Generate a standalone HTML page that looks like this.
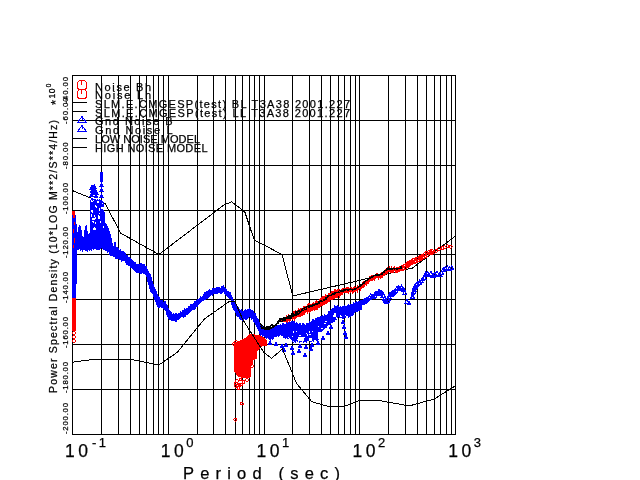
<!DOCTYPE html>
<html><head><meta charset="utf-8"><title>Power Spectral Density</title>
<style>html,body{margin:0;padding:0;background:#fff;overflow:hidden}svg{display:block}</style></head>
<body>
<svg width="640" height="480" viewBox="0 0 640 480">
<rect width="640" height="480" fill="#fff"/>
<path d="M72.5 75V435M101.5 75V435M118.5 75V435M130.5 75V435M139.5 75V435M146.5 75V435M153.5 75V435M158.5 75V435M163.5 75V435M168.5 75V435M197.5 75V435M213.5 75V435M225.5 75V435M235.5 75V435M242.5 75V435M249.5 75V435M254.5 75V435M259.5 75V435M264.5 75V435M292.5 75V435M309.5 75V435M321.5 75V435M330.5 75V435M338.5 75V435M344.5 75V435M350.5 75V435M355.5 75V435M359.5 75V435M388.5 75V435M405.5 75V435M417.5 75V435M426.5 75V435M434.5 75V435M440.5 75V435M446.5 75V435M451.5 75V435M455.5 75V435M72 75.5H456M72 120.5H456M72 165.5H456M72 210.5H456M72 254.5H456M72 299.5H456M72 344.5H456M72 389.5H456M72 434.5H456" stroke="#000" stroke-width="1" fill="none" shape-rendering="crispEdges"/>
<polyline points="72.4,190.6 105.2,203.8 120.8,233.2 158.9,254.5 223.7,205.1 231.7,201.8 244.8,211.9 254.2,239.9 282.0,254.5 292.8,296.0 412.5,268.0 455.6,236.0" fill="none" stroke="#000" stroke-width="1" shape-rendering="crispEdges"/>
<polyline points="72.4,362.2 94.5,359.3 130.1,359.3 158.9,364.9 177.1,352.5 204.6,318.8 228.9,301.8 235.2,301.8 242.7,319.6 264.0,352.7 271.6,358.3 282.5,349.0 296.6,383.5 311.9,401.8 326.6,406.0 345.0,406.0 360.2,400.3 377.8,400.3 409.2,405.9 434.3,399.0 455.6,385.7" fill="none" stroke="#000" stroke-width="1" shape-rendering="crispEdges"/>
<g shape-rendering="crispEdges">
<rect x="72" y="211" width="3" height="120" fill="#f00" shape-rendering="crispEdges"/><rect x="72" y="298" width="4" height="33" fill="#f00" shape-rendering="crispEdges"/>
<circle cx="74.0" cy="333.0" r="1.4" fill="none" stroke="#ff0000" stroke-width="1"/>
<circle cx="74.0" cy="337.0" r="1.4" fill="none" stroke="#ff0000" stroke-width="1"/>
<circle cx="74.0" cy="341.0" r="1.4" fill="none" stroke="#ff0000" stroke-width="1"/>
<polygon points="233.5,342.5 236.5,341.5 241,340 245,338 249,334 260,335 264,337.5 267,340 267,345.5 261.5,346.5 257,351 257,359 253,360 253,365 251,366 251,377 248,378.5 243,378 238,376.5 236,374 234,372 233.5,360" fill="#ff0000" shape-rendering="crispEdges"/>
<circle cx="240.4" cy="379.4" r="1.4" fill="none" stroke="#ff0000" stroke-width="1"/>
<circle cx="247.0" cy="380.0" r="1.4" fill="none" stroke="#ff0000" stroke-width="1"/>
<circle cx="239.4" cy="385.0" r="1.4" fill="none" stroke="#ff0000" stroke-width="1"/>
<circle cx="235.7" cy="386.0" r="1.4" fill="none" stroke="#ff0000" stroke-width="1"/>
<circle cx="243.5" cy="382.0" r="1.4" fill="none" stroke="#ff0000" stroke-width="1"/>
<circle cx="237.0" cy="381.0" r="1.4" fill="none" stroke="#ff0000" stroke-width="1"/>
<circle cx="238.5" cy="388.0" r="1.4" fill="none" stroke="#ff0000" stroke-width="1"/>
<circle cx="241.0" cy="384.5" r="1.4" fill="none" stroke="#ff0000" stroke-width="1"/>
<circle cx="236.0" cy="383.5" r="1.4" fill="none" stroke="#ff0000" stroke-width="1"/>
<circle cx="241.9" cy="403.7" r="1.4" fill="none" stroke="#ff0000" stroke-width="1"/>
<circle cx="235.3" cy="419.7" r="1.4" fill="none" stroke="#ff0000" stroke-width="1"/>
<circle cx="249.0" cy="362.0" r="1.4" fill="none" stroke="#ff0000" stroke-width="1"/>
<circle cx="252.0" cy="366.0" r="1.4" fill="none" stroke="#ff0000" stroke-width="1"/>
<circle cx="234.0" cy="344.0" r="1.4" fill="none" stroke="#ff0000" stroke-width="1"/>
<circle cx="236.0" cy="342.0" r="1.4" fill="none" stroke="#ff0000" stroke-width="1"/>
<polygon points="72,215 76,215 77,233 77,270 76,298 73,298 72,298" fill="#00f" shape-rendering="crispEdges"/>
<rect x="72" y="233" width="5" height="40" fill="#00f" shape-rendering="crispEdges"/>
<polygon points="75,248 76,248 76,240 77,240 77,232 78,232 78,227 79,227 79,225 80,225 80,226 81,226 81,230 82,230 82,236 83,236 83,237 84,237 84,230 85,230 85,226 86,226 86,225 87,225 87,231 88,231 88,234 89,234 89,233 90,233 90,200 91,200 91,198 92,198 92,198 93,198 93,199 94,199 94,199 95,199 95,199 96,199 96,200 97,200 97,199 98,199 98,200 99,200 99,199 100,199 100,200 101,200 101,200 102,200 102,201 103,201 103,202 104,202 104,212 105,212 105,223 106,223 106,224 107,224 107,226 108,226 108,228 109,228 109,231 110,231 110,234 111,234 111,238 112,238 112,243 113,243 113,246 114,246 114,242 115,242 115,242 116,242 116,247 117,247 117,247 118,247 118,248 119,248 119,250 120,250 120,249 121,249 121,251 122,251 122,251 123,251 123,251 124,251 124,252 125,252 125,253 126,253 126,255 127,255 127,255 128,255 128,257 129,257 129,257 130,257 130,258 131,258 131,259 132,259 132,260 133,260 133,261 134,261 134,262 135,262 135,262 136,262 136,264 137,264 137,264 138,264 138,264 139,264 139,264 140,264 140,263 141,263 141,263 142,263 142,264 143,264 143,264 144,264 144,264 145,264 145,266 146,266 146,266 147,266 147,269 148,269 148,271 149,271 149,273 150,273 150,274 151,274 151,277 152,277 152,281 153,281 153,284 154,284 154,287 155,287 155,289 156,289 156,291 157,291 157,294 158,294 158,296 159,296 159,297 160,297 160,300 161,300 161,300 162,300 162,300 163,300 163,302 164,302 164,301 165,301 165,301 166,301 166,304 167,304 167,305 168,305 168,308 169,308 169,310 170,310 170,311 171,311 171,312 172,312 172,314 173,314 173,313 174,313 174,314 175,314 175,313 176,313 176,313 177,313 177,314 178,314 178,313 179,313 179,313 180,313 180,311 181,311 181,312 182,312 182,310 183,310 183,310 184,310 184,308 185,308 185,309 186,309 186,308 187,308 187,308 188,308 188,306 189,306 189,306 190,306 190,304 191,304 191,304 192,304 192,304 193,304 193,303 194,303 194,301 195,301 195,301 196,301 196,300 197,300 197,299 198,299 198,299 199,299 199,298 200,298 200,296 201,296 201,297 202,297 202,296 203,296 203,294 204,294 204,292 205,292 205,292 206,292 206,291 207,291 207,291 208,291 208,290 209,290 209,289 210,289 210,290 211,290 211,290 212,290 212,288 213,288 213,288 214,288 214,288 215,288 215,288 216,288 216,287 217,287 217,287 218,287 218,287 219,287 219,287 220,287 220,288 221,288 221,286 222,286 222,286 223,286 223,285 224,285 224,287 225,287 225,288 226,288 226,289 227,289 227,291 228,291 228,291 229,291 229,292 230,292 230,292 231,292 231,295 232,295 232,297 233,297 233,300 234,300 234,301 235,301 235,303 236,303 236,305 237,305 237,307 238,307 238,307 239,307 239,309 240,309 240,310 241,310 241,309 242,309 242,311 243,311 243,311 244,311 244,310 245,310 245,309 246,309 246,310 247,310 247,309 248,309 248,309 249,309 249,308 250,308 250,309 251,309 251,310 252,310 252,310 253,310 253,311 254,311 254,313 255,313 255,313 256,313 256,316 257,316 257,318 258,318 258,319 259,319 259,322 260,322 260,324 261,324 261,325 262,325 262,326 263,326 263,327 264,327 264,327 265,327 265,329 266,329 266,328 267,328 267,329 268,329 268,328 269,328 269,328 270,328 270,327 271,327 271,328 272,328 272,327 273,327 273,326 274,326 274,326 275,326 275,326 276,326 276,326 277,326 277,325 278,325 278,325 279,325 279,325 280,325 280,324 281,324 281,325 282,325 282,323 283,323 283,323 284,323 284,324 285,324 285,324 286,324 286,322 287,322 287,323 288,323 288,322 289,322 289,322 290,322 290,322 291,322 291,321 292,321 292,321 293,321 293,321 294,321 294,321 295,321 295,323 296,323 296,322 297,322 297,323 298,323 298,324 299,324 299,323 300,323 300,323 301,323 301,325 302,325 302,323 303,323 303,323 304,323 304,324 305,324 305,325 306,325 306,323 307,323 307,323 308,323 308,323 309,323 309,321 310,321 310,322 311,322 311,321 312,321 312,319 313,319 313,319 314,319 314,320 315,320 315,318 316,318 316,318 317,318 317,317 318,317 318,317 319,317 319,317 320,317 320,316 321,316 321,316 322,316 322,315 323,315 323,316 324,316 324,314 325,314 325,315 326,315 326,315 327,315 327,314 328,314 328,311 329,311 329,311 330,311 330,310 331,310 331,309 332,309 332,308 333,308 333,308 334,308 334,305 335,305 335,306 336,306 336,306 337,306 337,305 338,305 338,306 339,306 339,307 340,307 340,306 341,306 341,307 342,307 342,306 343,306 343,306 344,306 344,305 345,305 345,306 346,306 346,306 347,306 347,305 348,305 348,304 349,304 349,305 350,305 350,304 351,304 351,304 352,304 352,304 353,304 353,302 354,302 354,303 355,303 355,302 356,302 356,301 357,301 357,302 358,302 358,301 359,301 359,301 360,301 360,300 361,300 361,300 362,300 362,310 361,310 361,310 360,310 360,311 359,311 359,311 358,311 358,312 357,312 357,312 356,312 356,312 355,312 355,313 354,313 354,315 353,315 353,316 352,316 352,316 351,316 351,317 350,317 350,317 349,317 349,318 348,318 348,316 347,316 347,316 346,316 346,318 345,318 345,318 344,318 344,319 343,319 343,319 342,319 342,318 341,318 341,318 340,318 340,318 339,318 339,317 338,317 338,318 337,318 337,320 336,320 336,320 335,320 335,322 334,322 334,322 333,322 333,323 332,323 332,323 331,323 331,324 330,324 330,325 329,325 329,325 328,325 328,326 327,326 327,328 326,328 326,328 325,328 325,329 324,329 324,330 323,330 323,331 322,331 322,334 321,334 321,335 320,335 320,338 319,338 319,340 318,340 318,341 317,341 317,341 316,341 316,340 315,340 315,340 314,340 314,342 313,342 313,341 312,341 312,342 311,342 311,342 310,342 310,341 309,341 309,341 308,341 308,341 307,341 307,343 306,343 306,342 305,342 305,342 304,342 304,343 303,343 303,341 302,341 302,342 301,342 301,342 300,342 300,343 299,343 299,341 298,341 298,342 297,342 297,341 296,341 296,343 295,343 295,342 294,342 294,343 293,343 293,342 292,342 292,340 291,340 291,339 290,339 290,339 289,339 289,339 288,339 288,339 287,339 287,338 286,338 286,339 285,339 285,338 284,338 284,338 283,338 283,336 282,336 282,336 281,336 281,335 280,335 280,336 279,336 279,337 278,337 278,336 277,336 277,337 276,337 276,337 275,337 275,337 274,337 274,339 273,339 273,340 272,340 272,339 271,339 271,341 270,341 270,340 269,340 269,339 268,339 268,338 267,338 267,339 266,339 266,338 265,338 265,337 264,337 264,336 263,336 263,337 262,337 262,335 261,335 261,336 260,336 260,334 259,334 259,331 258,331 258,329 257,329 257,327 256,327 256,325 255,325 255,323 254,323 254,322 253,322 253,319 252,319 252,320 251,320 251,318 250,318 250,317 249,317 249,318 248,318 248,319 247,319 247,320 246,320 246,320 245,320 245,319 244,319 244,321 243,321 243,321 242,321 242,320 241,320 241,320 240,320 240,319 239,319 239,317 238,317 238,317 237,317 237,316 236,316 236,313 235,313 235,311 234,311 234,310 233,310 233,308 232,308 232,305 231,305 231,299 230,299 230,299 229,299 229,298 228,298 228,297 227,297 227,296 226,296 226,295 225,295 225,294 224,294 224,292 223,292 223,293 222,293 222,294 221,294 221,294 220,294 220,293 219,293 219,293 218,293 218,294 217,294 217,294 216,294 216,294 215,294 215,294 214,294 214,294 213,294 213,296 212,296 212,295 211,295 211,296 210,296 210,297 209,297 209,298 208,298 208,299 207,299 207,299 206,299 206,300 205,300 205,300 204,300 204,301 203,301 203,301 202,301 202,302 201,302 201,303 200,303 200,304 199,304 199,305 198,305 198,307 197,307 197,307 196,307 196,309 195,309 195,310 194,310 194,310 193,310 193,310 192,310 192,311 191,311 191,312 190,312 190,313 189,313 189,314 188,314 188,315 187,315 187,315 186,315 186,317 185,317 185,317 184,317 184,318 183,318 183,317 182,317 182,317 181,317 181,318 180,318 180,319 179,319 179,320 178,320 178,320 177,320 177,322 176,322 176,322 175,322 175,321 174,321 174,321 173,321 173,321 172,321 172,321 171,321 171,320 170,320 170,320 169,320 169,319 168,319 168,317 167,317 167,315 166,315 166,311 165,311 165,310 164,310 164,309 163,309 163,308 162,308 162,308 161,308 161,307 160,307 160,308 159,308 159,308 158,308 158,307 157,307 157,305 156,305 156,302 155,302 155,300 154,300 154,297 153,297 153,294 152,294 152,293 151,293 151,292 150,292 150,289 149,289 149,285 148,285 148,282 147,282 147,277 146,277 146,275 145,275 145,274 144,274 144,274 143,274 143,273 142,273 142,274 141,274 141,274 140,274 140,273 139,273 139,273 138,273 138,273 137,273 137,273 136,273 136,272 135,272 135,271 134,271 134,270 133,270 133,269 132,269 132,268 131,268 131,268 130,268 130,266 129,266 129,266 128,266 128,265 127,265 127,265 126,265 126,263 125,263 125,261 124,261 124,261 123,261 123,261 122,261 122,262 121,262 121,260 120,260 120,260 119,260 119,259 118,259 118,259 117,259 117,259 116,259 116,259 115,259 115,257 114,257 114,257 113,257 113,256 112,256 112,256 111,256 111,256 110,256 110,255 109,255 109,252 108,252 108,253 107,253 107,251 106,251 106,251 105,251 105,250 104,250 104,250 103,250 103,249 102,249 102,248 101,248 101,249 100,249 100,250 99,250 99,250 98,250 98,250 97,250 97,250 96,250 96,249 95,249 95,249 94,249 94,250 93,250 93,249 92,249 92,251 91,251 91,250 90,250 90,251 89,251 89,250 88,250 88,252 87,252 87,251 86,251 86,251 85,251 85,250 84,250 84,250 83,250 83,252 82,252 82,250 81,250 81,251 80,251 80,249 79,249 79,250 78,250 78,250 77,250 77,249 76,249 76,250 75,250" fill="#0000ff" shape-rendering="crispEdges"/>
<rect x="100" y="172" width="3" height="10" fill="#00f" shape-rendering="crispEdges"/>
<path d="M100.0 186.2L101.5 183.2L103.0 186.2Z" fill="#0000ff" stroke="#0000ff" stroke-width="1"/>
<path d="M100.0 191.2L101.5 188.2L103.0 191.2Z" fill="#0000ff" stroke="#0000ff" stroke-width="1"/>
<path d="M100.0 197.2L101.5 194.2L103.0 197.2Z" fill="#0000ff" stroke="#0000ff" stroke-width="1"/>
<path d="M90.0 189.2L91.5 186.2L93.0 189.2Z" fill="#0000ff" stroke="#0000ff" stroke-width="1"/>
<path d="M91.5 187.7L93.0 184.7L94.5 187.7Z" fill="#0000ff" stroke="#0000ff" stroke-width="1"/>
<path d="M93.0 188.2L94.5 185.2L96.0 188.2Z" fill="#0000ff" stroke="#0000ff" stroke-width="1"/>
<path d="M90.5 192.2L92.0 189.2L93.5 192.2Z" fill="#0000ff" stroke="#0000ff" stroke-width="1"/>
<path d="M94.0 192.2L95.5 189.2L97.0 192.2Z" fill="#0000ff" stroke="#0000ff" stroke-width="1"/>
<path d="M92.0 194.7L93.5 191.7L95.0 194.7Z" fill="#0000ff" stroke="#0000ff" stroke-width="1"/>
<path d="M90.0 196.2L91.5 193.2L93.0 196.2Z" fill="#0000ff" stroke="#0000ff" stroke-width="1"/>
<path d="M94.5 197.2L96.0 194.2L97.5 197.2Z" fill="#0000ff" stroke="#0000ff" stroke-width="1"/>
<path d="M93.0 191.2L94.5 188.2L96.0 191.2Z" fill="#0000ff" stroke="#0000ff" stroke-width="1"/>
<path d="M95.0 194.2L96.5 191.2L98.0 194.2Z" fill="#0000ff" stroke="#0000ff" stroke-width="1"/>
<rect x="318" y="326" width="1" height="1" fill="#fff" shape-rendering="crispEdges"/>
<rect x="325" y="321" width="2" height="1" fill="#fff" shape-rendering="crispEdges"/>
<rect x="325" y="323" width="1" height="1" fill="#fff" shape-rendering="crispEdges"/>
<rect x="345" y="315" width="1" height="1" fill="#fff" shape-rendering="crispEdges"/>
<rect x="304" y="337" width="1" height="1" fill="#fff" shape-rendering="crispEdges"/>
<rect x="310" y="339" width="1" height="2" fill="#fff" shape-rendering="crispEdges"/>
<rect x="297" y="339" width="1" height="1" fill="#fff" shape-rendering="crispEdges"/>
<rect x="312" y="331" width="1" height="1" fill="#fff" shape-rendering="crispEdges"/>
<rect x="310" y="339" width="1" height="1" fill="#fff" shape-rendering="crispEdges"/>
<rect x="293" y="331" width="1" height="2" fill="#fff" shape-rendering="crispEdges"/>
<rect x="334" y="315" width="2" height="2" fill="#fff" shape-rendering="crispEdges"/>
<rect x="341" y="316" width="1" height="1" fill="#fff" shape-rendering="crispEdges"/>
<rect x="306" y="333" width="1" height="1" fill="#fff" shape-rendering="crispEdges"/>
<rect x="292" y="336" width="1" height="1" fill="#fff" shape-rendering="crispEdges"/>
<rect x="293" y="341" width="1" height="1" fill="#fff" shape-rendering="crispEdges"/>
<rect x="289" y="338" width="1" height="1" fill="#fff" shape-rendering="crispEdges"/>
<rect x="340" y="315" width="1" height="2" fill="#fff" shape-rendering="crispEdges"/>
<rect x="333" y="315" width="1" height="2" fill="#fff" shape-rendering="crispEdges"/>
<rect x="336" y="317" width="1" height="2" fill="#fff" shape-rendering="crispEdges"/>
<rect x="299" y="335" width="2" height="1" fill="#fff" shape-rendering="crispEdges"/>
<rect x="309" y="331" width="1" height="2" fill="#fff" shape-rendering="crispEdges"/>
<rect x="334" y="313" width="2" height="2" fill="#fff" shape-rendering="crispEdges"/>
<rect x="288" y="337" width="1" height="1" fill="#fff" shape-rendering="crispEdges"/>
<rect x="321" y="328" width="2" height="1" fill="#fff" shape-rendering="crispEdges"/>
<rect x="324" y="323" width="1" height="1" fill="#fff" shape-rendering="crispEdges"/>
<rect x="309" y="334" width="2" height="1" fill="#fff" shape-rendering="crispEdges"/>
<rect x="296" y="331" width="1" height="1" fill="#fff" shape-rendering="crispEdges"/>
<rect x="300" y="339" width="1" height="1" fill="#fff" shape-rendering="crispEdges"/>
<rect x="334" y="315" width="1" height="1" fill="#fff" shape-rendering="crispEdges"/>
<rect x="307" y="334" width="1" height="2" fill="#fff" shape-rendering="crispEdges"/>
<rect x="97" y="201" width="2" height="2" fill="#fff" shape-rendering="crispEdges"/>
<rect x="92" y="221" width="2" height="1" fill="#fff" shape-rendering="crispEdges"/>
<rect x="91" y="214" width="1" height="2" fill="#fff" shape-rendering="crispEdges"/>
<rect x="91" y="201" width="2" height="1" fill="#fff" shape-rendering="crispEdges"/>
<rect x="93" y="228" width="1" height="2" fill="#fff" shape-rendering="crispEdges"/>
<rect x="103" y="226" width="1" height="2" fill="#fff" shape-rendering="crispEdges"/>
<rect x="91" y="210" width="1" height="2" fill="#fff" shape-rendering="crispEdges"/>
<rect x="95" y="217" width="1" height="2" fill="#fff" shape-rendering="crispEdges"/>
<rect x="94" y="227" width="1" height="2" fill="#fff" shape-rendering="crispEdges"/>
<rect x="98" y="217" width="1" height="2" fill="#fff" shape-rendering="crispEdges"/>
<rect x="95" y="205" width="1" height="2" fill="#fff" shape-rendering="crispEdges"/>
<rect x="99" y="208" width="1" height="3" fill="#fff" shape-rendering="crispEdges"/>
<rect x="93" y="222" width="1" height="1" fill="#fff" shape-rendering="crispEdges"/>
<rect x="99" y="210" width="1" height="1" fill="#fff" shape-rendering="crispEdges"/>
<rect x="94" y="215" width="1" height="2" fill="#fff" shape-rendering="crispEdges"/>
<rect x="94" y="228" width="2" height="2" fill="#fff" shape-rendering="crispEdges"/>
<rect x="95" y="222" width="1" height="2" fill="#fff" shape-rendering="crispEdges"/>
<rect x="93" y="221" width="1" height="2" fill="#fff" shape-rendering="crispEdges"/>
<rect x="101" y="207" width="2" height="2" fill="#fff" shape-rendering="crispEdges"/>
<rect x="100" y="221" width="1" height="2" fill="#fff" shape-rendering="crispEdges"/>
<rect x="94" y="218" width="1" height="2" fill="#fff" shape-rendering="crispEdges"/>
<rect x="102" y="203" width="1" height="1" fill="#fff" shape-rendering="crispEdges"/>
<rect x="91" y="200" width="1" height="2" fill="#fff" shape-rendering="crispEdges"/>
<rect x="92" y="210" width="1" height="3" fill="#fff" shape-rendering="crispEdges"/>
<rect x="98" y="217" width="1" height="2" fill="#fff" shape-rendering="crispEdges"/>
<rect x="99" y="213" width="1" height="1" fill="#fff" shape-rendering="crispEdges"/>
<rect x="103" y="207" width="1" height="3" fill="#fff" shape-rendering="crispEdges"/>
<rect x="92" y="218" width="2" height="2" fill="#fff" shape-rendering="crispEdges"/>
<rect x="96" y="207" width="1" height="1" fill="#fff" shape-rendering="crispEdges"/>
<rect x="99" y="216" width="1" height="3" fill="#fff" shape-rendering="crispEdges"/>
<rect x="98" y="215" width="1" height="2" fill="#fff" shape-rendering="crispEdges"/>
<rect x="93" y="200" width="1" height="1" fill="#fff" shape-rendering="crispEdges"/>
<rect x="96" y="206" width="1" height="1" fill="#fff" shape-rendering="crispEdges"/>
<rect x="91" y="215" width="1" height="2" fill="#fff" shape-rendering="crispEdges"/>
<rect x="298" y="337" width="6" height="4" fill="#fff"/><rect x="318" y="332" width="4" height="7" fill="#fff"/><rect x="309" y="338" width="3" height="3" fill="#fff"/>
<rect x="77" y="217" width="1" height="14" fill="#fff"/>
<path d="M284.5 346.2L286.0 343.2L287.5 346.2Z" fill="#0000ff" stroke="#0000ff" stroke-width="1"/>
<path d="M290.5 349.2L292.0 346.2L293.5 349.2Z" fill="#0000ff" stroke="#0000ff" stroke-width="1"/>
<path d="M298.5 347.2L300.0 344.2L301.5 347.2Z" fill="#0000ff" stroke="#0000ff" stroke-width="1"/>
<path d="M304.5 348.2L306.0 345.2L307.5 348.2Z" fill="#0000ff" stroke="#0000ff" stroke-width="1"/>
<path d="M310.5 346.2L312.0 343.2L313.5 346.2Z" fill="#0000ff" stroke="#0000ff" stroke-width="1"/>
<path d="M316.5 344.2L318.0 341.2L319.5 344.2Z" fill="#0000ff" stroke="#0000ff" stroke-width="1"/>
<path d="M321.5 339.2L323.0 336.2L324.5 339.2Z" fill="#0000ff" stroke="#0000ff" stroke-width="1"/>
<path d="M326.5 334.2L328.0 331.2L329.5 334.2Z" fill="#0000ff" stroke="#0000ff" stroke-width="1"/>
<path d="M329.5 328.2L331.0 325.2L332.5 328.2Z" fill="#0000ff" stroke="#0000ff" stroke-width="1"/>
<path d="M341.5 323.2L343.0 320.2L344.5 323.2Z" fill="#0000ff" stroke="#0000ff" stroke-width="1"/>
<path d="M342.5 328.2L344.0 325.2L345.5 328.2Z" fill="#0000ff" stroke="#0000ff" stroke-width="1"/>
<path d="M343.5 334.2L345.0 331.2L346.5 334.2Z" fill="#0000ff" stroke="#0000ff" stroke-width="1"/>
<path d="M344.5 338.2L346.0 335.2L347.5 338.2Z" fill="#0000ff" stroke="#0000ff" stroke-width="1"/>
<path d="M282.5 351.2L284.0 348.2L285.5 351.2Z" fill="#0000ff" stroke="#0000ff" stroke-width="1"/>
<path d="M291.5 354.2L293.0 351.2L294.5 354.2Z" fill="#0000ff" stroke="#0000ff" stroke-width="1"/>
<path d="M268.5 344.2L270.0 341.2L271.5 344.2Z" fill="#0000ff" stroke="#0000ff" stroke-width="1"/>
<path d="M274.5 345.2L276.0 342.2L277.5 345.2Z" fill="#0000ff" stroke="#0000ff" stroke-width="1"/>
<path d="M280.5 347.2L282.0 344.2L283.5 347.2Z" fill="#0000ff" stroke="#0000ff" stroke-width="1"/>
<path d="M297.5 352.2L299.0 349.2L300.5 352.2Z" fill="#0000ff" stroke="#0000ff" stroke-width="1"/>
<path d="M303.5 356.2L305.0 353.2L306.5 356.2Z" fill="#0000ff" stroke="#0000ff" stroke-width="1"/>
<path d="M309.5 350.2L311.0 347.2L312.5 350.2Z" fill="#0000ff" stroke="#0000ff" stroke-width="1"/>
<path d="M360.0 304.4L362.0 300.4L364.0 304.4Z" fill="none" stroke="#0000ff" stroke-width="1"/>
<path d="M361.2 303.8L363.2 299.8L365.2 303.8Z" fill="none" stroke="#0000ff" stroke-width="1"/>
<path d="M362.4 303.3L364.4 299.3L366.4 303.3Z" fill="none" stroke="#0000ff" stroke-width="1"/>
<path d="M363.6 302.6L365.6 298.6L367.6 302.6Z" fill="none" stroke="#0000ff" stroke-width="1"/>
<path d="M364.8 301.2L366.8 297.2L368.8 301.2Z" fill="none" stroke="#0000ff" stroke-width="1"/>
<path d="M366.0 300.9L368.0 296.9L370.0 300.9Z" fill="none" stroke="#0000ff" stroke-width="1"/>
<path d="M367.3 299.8L369.3 295.8L371.3 299.8Z" fill="none" stroke="#0000ff" stroke-width="1"/>
<path d="M368.6 298.0L370.6 294.0L372.6 298.0Z" fill="none" stroke="#0000ff" stroke-width="1"/>
<path d="M370.0 298.5L372.0 294.5L374.0 298.5Z" fill="none" stroke="#0000ff" stroke-width="1"/>
<path d="M371.3 298.6L373.3 294.6L375.3 298.6Z" fill="none" stroke="#0000ff" stroke-width="1"/>
<path d="M372.6 297.1L374.6 293.1L376.6 297.1Z" fill="none" stroke="#0000ff" stroke-width="1"/>
<path d="M373.9 295.8L375.9 291.8L377.9 295.8Z" fill="none" stroke="#0000ff" stroke-width="1"/>
<path d="M375.2 295.2L377.2 291.2L379.2 295.2Z" fill="none" stroke="#0000ff" stroke-width="1"/>
<path d="M376.5 294.1L378.5 290.1L380.5 294.1Z" fill="none" stroke="#0000ff" stroke-width="1"/>
<path d="M377.8 293.4L379.8 289.4L381.8 293.4Z" fill="none" stroke="#0000ff" stroke-width="1"/>
<path d="M378.9 295.6L380.9 291.6L382.9 295.6Z" fill="none" stroke="#0000ff" stroke-width="1"/>
<path d="M379.9 294.6L381.9 290.6L383.9 294.6Z" fill="none" stroke="#0000ff" stroke-width="1"/>
<path d="M381.0 297.0L383.0 293.0L385.0 297.0Z" fill="none" stroke="#0000ff" stroke-width="1"/>
<path d="M381.6 297.2L383.6 293.2L385.6 297.2Z" fill="none" stroke="#0000ff" stroke-width="1"/>
<path d="M382.2 300.6L384.2 296.6L386.2 300.6Z" fill="none" stroke="#0000ff" stroke-width="1"/>
<path d="M382.8 300.2L384.8 296.2L386.8 300.2Z" fill="none" stroke="#0000ff" stroke-width="1"/>
<path d="M383.4 302.5L385.4 298.5L387.4 302.5Z" fill="none" stroke="#0000ff" stroke-width="1"/>
<path d="M384.0 302.7L386.0 298.7L388.0 302.7Z" fill="none" stroke="#0000ff" stroke-width="1"/>
<path d="M384.8 303.3L386.8 299.3L388.8 303.3Z" fill="none" stroke="#0000ff" stroke-width="1"/>
<path d="M385.5 302.1L387.5 298.1L389.5 302.1Z" fill="none" stroke="#0000ff" stroke-width="1"/>
<path d="M386.2 300.9L388.2 296.9L390.2 300.9Z" fill="none" stroke="#0000ff" stroke-width="1"/>
<path d="M387.0 298.0L389.0 294.0L391.0 298.0Z" fill="none" stroke="#0000ff" stroke-width="1"/>
<path d="M388.0 296.3L390.0 292.3L392.0 296.3Z" fill="none" stroke="#0000ff" stroke-width="1"/>
<path d="M389.0 296.4L391.0 292.4L393.0 296.4Z" fill="none" stroke="#0000ff" stroke-width="1"/>
<path d="M390.0 295.3L392.0 291.3L394.0 295.3Z" fill="none" stroke="#0000ff" stroke-width="1"/>
<path d="M391.0 294.0L393.0 290.0L395.0 294.0Z" fill="none" stroke="#0000ff" stroke-width="1"/>
<path d="M392.4 293.6L394.4 289.6L396.4 293.6Z" fill="none" stroke="#0000ff" stroke-width="1"/>
<path d="M393.8 292.7L395.8 288.7L397.8 292.7Z" fill="none" stroke="#0000ff" stroke-width="1"/>
<path d="M395.1 290.1L397.1 286.1L399.1 290.1Z" fill="none" stroke="#0000ff" stroke-width="1"/>
<path d="M396.5 290.6L398.5 286.6L400.5 290.6Z" fill="none" stroke="#0000ff" stroke-width="1"/>
<path d="M397.9 290.8L399.9 286.8L401.9 290.8Z" fill="none" stroke="#0000ff" stroke-width="1"/>
<path d="M399.3 289.1L401.3 285.1L403.3 289.1Z" fill="none" stroke="#0000ff" stroke-width="1"/>
<path d="M400.7 290.3L402.7 286.3L404.7 290.3Z" fill="none" stroke="#0000ff" stroke-width="1"/>
<path d="M401.8 291.2L403.8 287.2L405.8 291.2Z" fill="none" stroke="#0000ff" stroke-width="1"/>
<path d="M402.8 294.6L404.8 290.6L406.8 294.6Z" fill="none" stroke="#0000ff" stroke-width="1"/>
<path d="M405.0 303.4L407.0 299.4L409.0 303.4Z" fill="none" stroke="#0000ff" stroke-width="1"/>
<path d="M407.0 304.9L409.0 300.9L411.0 304.9Z" fill="none" stroke="#0000ff" stroke-width="1"/>
<path d="M410.0 298.8L412.0 294.8L414.0 298.8Z" fill="none" stroke="#0000ff" stroke-width="1"/>
<path d="M410.5 298.5L412.5 294.5L414.5 298.5Z" fill="none" stroke="#0000ff" stroke-width="1"/>
<path d="M411.0 294.7L413.0 290.7L415.0 294.7Z" fill="none" stroke="#0000ff" stroke-width="1"/>
<path d="M411.6 293.2L413.6 289.2L415.6 293.2Z" fill="none" stroke="#0000ff" stroke-width="1"/>
<path d="M412.1 291.6L414.1 287.6L416.1 291.6Z" fill="none" stroke="#0000ff" stroke-width="1"/>
<path d="M412.6 289.0L414.6 285.0L416.6 289.0Z" fill="none" stroke="#0000ff" stroke-width="1"/>
<path d="M413.5 288.4L415.5 284.4L417.5 288.4Z" fill="none" stroke="#0000ff" stroke-width="1"/>
<path d="M414.4 286.8L416.4 282.8L418.4 286.8Z" fill="none" stroke="#0000ff" stroke-width="1"/>
<path d="M415.3 285.3L417.3 281.3L419.3 285.3Z" fill="none" stroke="#0000ff" stroke-width="1"/>
<path d="M417.4 284.2L419.4 280.2L421.4 284.2Z" fill="none" stroke="#0000ff" stroke-width="1"/>
<path d="M419.5 282.7L421.5 278.7L423.5 282.7Z" fill="none" stroke="#0000ff" stroke-width="1"/>
<path d="M420.9 280.9L422.9 276.9L424.9 280.9Z" fill="none" stroke="#0000ff" stroke-width="1"/>
<path d="M422.2 279.3L424.2 275.3L426.2 279.3Z" fill="none" stroke="#0000ff" stroke-width="1"/>
<path d="M423.6 276.4L425.6 272.4L427.6 276.4Z" fill="none" stroke="#0000ff" stroke-width="1"/>
<path d="M425.1 275.5L427.1 271.5L429.1 275.5Z" fill="none" stroke="#0000ff" stroke-width="1"/>
<path d="M426.7 276.7L428.7 272.7L430.7 276.7Z" fill="none" stroke="#0000ff" stroke-width="1"/>
<path d="M428.9 275.3L430.9 271.3L432.9 275.3Z" fill="none" stroke="#0000ff" stroke-width="1"/>
<path d="M431.0 277.1L433.0 273.1L435.0 277.1Z" fill="none" stroke="#0000ff" stroke-width="1"/>
<path d="M433.0 276.4L435.0 272.4L437.0 276.4Z" fill="none" stroke="#0000ff" stroke-width="1"/>
<path d="M435.0 275.0L437.0 271.0L439.0 275.0Z" fill="none" stroke="#0000ff" stroke-width="1"/>
<path d="M438.0 276.4L440.0 272.4L442.0 276.4Z" fill="none" stroke="#0000ff" stroke-width="1"/>
<path d="M439.6 274.6L441.6 270.6L443.6 274.6Z" fill="none" stroke="#0000ff" stroke-width="1"/>
<path d="M441.3 271.8L443.3 267.8L445.3 271.8Z" fill="none" stroke="#0000ff" stroke-width="1"/>
<path d="M443.4 270.5L445.4 266.5L447.4 270.5Z" fill="none" stroke="#0000ff" stroke-width="1"/>
<path d="M445.5 269.7L447.5 265.7L449.5 269.7Z" fill="none" stroke="#0000ff" stroke-width="1"/>
<path d="M447.6 270.9L449.6 266.9L451.6 270.9Z" fill="none" stroke="#0000ff" stroke-width="1"/>
<path d="M449.7 269.8L451.7 265.8L453.7 269.8Z" fill="none" stroke="#0000ff" stroke-width="1"/>
<rect x="73" y="211" width="2" height="7" fill="#f00"/><rect x="74" y="222" width="1" height="3" fill="#f00"/><rect x="73" y="229" width="1" height="4" fill="#f00"/><rect x="74" y="238" width="1" height="5" fill="#f00"/><rect x="73" y="245" width="1" height="3" fill="#f00"/>
<polygon points="281,319 282,319 282,319 283,319 283,318 284,318 284,317 285,317 285,317 286,317 286,315 287,315 287,316 288,316 288,314 289,314 289,315 290,315 290,315 291,315 291,315 292,315 292,313 293,313 293,311 294,311 294,311 295,311 295,310 296,310 296,311 297,311 297,310 298,310 298,308 299,308 299,309 300,309 300,308 301,308 301,308 302,308 302,308 303,308 303,306 304,306 304,306 305,306 305,306 306,306 306,306 307,306 307,304 308,304 308,303 309,303 309,303 310,303 310,304 311,304 311,304 312,304 312,303 313,303 313,302 314,302 314,303 315,303 315,301 316,301 316,300 317,300 317,301 318,301 318,301 319,301 319,299 320,299 320,298 321,298 321,297 322,297 322,296 323,296 323,296 324,296 324,296 325,296 325,294 326,294 326,295 327,295 327,295 328,295 328,293 329,293 329,293 330,293 330,293 331,293 331,291 332,291 332,291 333,291 333,291 334,291 334,289 335,289 335,289 336,289 336,290 337,290 337,289 338,289 338,289 339,289 339,289 340,289 340,291 341,291 341,289 342,289 342,288 343,288 343,288 344,288 344,288 345,288 345,288 346,288 346,287 347,287 347,287 348,287 348,287 349,287 349,288 350,288 350,287 351,287 351,287 352,287 352,288 353,288 353,287 354,287 354,286 355,286 355,287 356,287 356,287 357,287 357,285 358,285 358,286 359,286 359,285 360,285 360,284 361,284 361,284 362,284 362,282 363,282 363,281 364,281 364,281 365,281 365,280 366,280 366,280 367,280 367,279 368,279 368,278 369,278 369,276 370,276 370,276 371,276 371,275 372,275 372,275 373,275 373,276 374,276 374,275 375,275 375,275 376,275 376,273 377,273 377,273 378,273 378,274 379,274 379,274 380,274 380,273 381,273 381,272 382,272 382,273 383,273 383,272 384,272 384,270 385,270 385,269 386,269 386,270 387,270 387,267 388,267 388,268 389,268 389,266 390,266 390,268 391,268 391,266 392,266 392,268 393,268 393,267 394,267 394,266 395,266 395,268 396,268 396,267 397,267 397,267 398,267 398,268 399,268 399,271 398,271 398,273 397,273 397,273 396,273 396,273 395,273 395,271 394,271 394,273 393,273 393,273 392,273 392,273 391,273 391,273 390,273 390,272 389,272 389,272 388,272 388,274 387,274 387,274 386,274 386,275 385,275 385,276 384,276 384,276 383,276 383,278 382,278 382,278 381,278 381,279 380,279 380,278 379,278 379,280 378,280 378,278 377,278 377,278 376,278 376,279 375,279 375,281 374,281 374,280 373,280 373,281 372,281 372,281 371,281 371,281 370,281 370,282 369,282 369,284 368,284 368,284 367,284 367,286 366,286 366,285 365,285 365,287 364,287 364,288 363,288 363,288 362,288 362,289 361,289 361,291 360,291 360,289 359,289 359,290 358,290 358,293 357,293 357,291 356,291 356,292 355,292 355,292 354,292 354,293 353,293 353,294 352,294 352,292 351,292 351,293 350,293 350,292 349,292 349,294 348,294 348,293 347,293 347,293 346,293 346,293 345,293 345,293 344,293 344,293 343,293 343,295 342,295 342,295 341,295 341,296 340,296 340,298 339,298 339,296 338,296 338,298 337,298 337,298 336,298 336,298 335,298 335,299 334,299 334,299 333,299 333,300 332,300 332,300 331,300 331,300 330,300 330,302 329,302 329,302 328,302 328,303 327,303 327,304 326,304 326,304 325,304 325,305 324,305 324,305 323,305 323,306 322,306 322,306 321,306 321,307 320,307 320,308 319,308 319,308 318,308 318,310 317,310 317,310 316,310 316,310 315,310 315,311 314,311 314,310 313,310 313,311 312,311 312,311 311,311 311,312 310,312 310,313 309,313 309,312 308,312 308,314 307,314 307,312 306,312 306,313 305,313 305,315 304,315 304,315 303,315 303,316 302,316 302,316 301,316 301,317 300,317 300,317 299,317 299,317 298,317 298,317 297,317 297,318 296,318 296,319 295,319 295,321 294,321 294,319 293,319 293,320 292,320 292,319 291,319 291,321 290,321 290,322 289,322 289,321 288,321 288,323 287,323 287,322 286,322 286,322 285,322 285,322 284,322 284,322 283,322 283,322 282,322 282,322 281,322" fill="#ff0000" shape-rendering="crispEdges"/>
<circle cx="398.0" cy="268.3" r="1.4" fill="none" stroke="#ff0000" stroke-width="1"/>
<circle cx="398.8" cy="270.2" r="1.4" fill="none" stroke="#ff0000" stroke-width="1"/>
<circle cx="399.4" cy="268.2" r="1.4" fill="none" stroke="#ff0000" stroke-width="1"/>
<circle cx="400.2" cy="269.7" r="1.4" fill="none" stroke="#ff0000" stroke-width="1"/>
<circle cx="401.1" cy="267.3" r="1.4" fill="none" stroke="#ff0000" stroke-width="1"/>
<circle cx="401.9" cy="269.7" r="1.4" fill="none" stroke="#ff0000" stroke-width="1"/>
<circle cx="402.6" cy="266.8" r="1.4" fill="none" stroke="#ff0000" stroke-width="1"/>
<circle cx="403.4" cy="268.7" r="1.4" fill="none" stroke="#ff0000" stroke-width="1"/>
<circle cx="404.7" cy="265.4" r="1.4" fill="none" stroke="#ff0000" stroke-width="1"/>
<circle cx="405.5" cy="267.6" r="1.4" fill="none" stroke="#ff0000" stroke-width="1"/>
<circle cx="406.4" cy="264.3" r="1.4" fill="none" stroke="#ff0000" stroke-width="1"/>
<circle cx="407.2" cy="266.1" r="1.4" fill="none" stroke="#ff0000" stroke-width="1"/>
<circle cx="407.6" cy="263.4" r="1.4" fill="none" stroke="#ff0000" stroke-width="1"/>
<circle cx="408.4" cy="265.0" r="1.4" fill="none" stroke="#ff0000" stroke-width="1"/>
<circle cx="408.8" cy="262.8" r="1.4" fill="none" stroke="#ff0000" stroke-width="1"/>
<circle cx="409.6" cy="264.1" r="1.4" fill="none" stroke="#ff0000" stroke-width="1"/>
<circle cx="410.5" cy="261.8" r="1.4" fill="none" stroke="#ff0000" stroke-width="1"/>
<circle cx="411.3" cy="263.4" r="1.4" fill="none" stroke="#ff0000" stroke-width="1"/>
<circle cx="412.0" cy="260.9" r="1.4" fill="none" stroke="#ff0000" stroke-width="1"/>
<circle cx="412.8" cy="262.7" r="1.4" fill="none" stroke="#ff0000" stroke-width="1"/>
<circle cx="414.0" cy="259.7" r="1.4" fill="none" stroke="#ff0000" stroke-width="1"/>
<circle cx="414.8" cy="261.9" r="1.4" fill="none" stroke="#ff0000" stroke-width="1"/>
<circle cx="415.5" cy="259.2" r="1.4" fill="none" stroke="#ff0000" stroke-width="1"/>
<circle cx="416.3" cy="261.4" r="1.4" fill="none" stroke="#ff0000" stroke-width="1"/>
<circle cx="417.2" cy="258.6" r="1.4" fill="none" stroke="#ff0000" stroke-width="1"/>
<circle cx="418.0" cy="260.6" r="1.4" fill="none" stroke="#ff0000" stroke-width="1"/>
<circle cx="419.3" cy="257.5" r="1.4" fill="none" stroke="#ff0000" stroke-width="1"/>
<circle cx="420.1" cy="259.4" r="1.4" fill="none" stroke="#ff0000" stroke-width="1"/>
<circle cx="421.0" cy="256.5" r="1.4" fill="none" stroke="#ff0000" stroke-width="1"/>
<circle cx="421.8" cy="258.4" r="1.4" fill="none" stroke="#ff0000" stroke-width="1"/>
<circle cx="422.7" cy="255.5" r="1.4" fill="none" stroke="#ff0000" stroke-width="1"/>
<circle cx="423.5" cy="257.3" r="1.4" fill="none" stroke="#ff0000" stroke-width="1"/>
<circle cx="424.8" cy="254.3" r="1.4" fill="none" stroke="#ff0000" stroke-width="1"/>
<circle cx="425.6" cy="256.3" r="1.4" fill="none" stroke="#ff0000" stroke-width="1"/>
<circle cx="426.9" cy="252.7" r="1.4" fill="none" stroke="#ff0000" stroke-width="1"/>
<circle cx="427.7" cy="254.7" r="1.4" fill="none" stroke="#ff0000" stroke-width="1"/>
<circle cx="429.1" cy="252.0" r="1.4" fill="none" stroke="#ff0000" stroke-width="1"/>
<circle cx="429.9" cy="253.2" r="1.4" fill="none" stroke="#ff0000" stroke-width="1"/>
<circle cx="430.4" cy="251.3" r="1.4" fill="none" stroke="#ff0000" stroke-width="1"/>
<circle cx="431.2" cy="252.8" r="1.4" fill="none" stroke="#ff0000" stroke-width="1"/>
<circle cx="431.8" cy="250.5" r="1.4" fill="none" stroke="#ff0000" stroke-width="1"/>
<circle cx="432.6" cy="252.8" r="1.4" fill="none" stroke="#ff0000" stroke-width="1"/>
<circle cx="433.8" cy="252.0" r="1.4" fill="none" stroke="#ff0000" stroke-width="1"/>
<circle cx="436.1" cy="250.9" r="1.4" fill="none" stroke="#ff0000" stroke-width="1"/>
<circle cx="439.0" cy="248.9" r="1.4" fill="none" stroke="#ff0000" stroke-width="1"/>
<circle cx="442.4" cy="248.1" r="1.4" fill="none" stroke="#ff0000" stroke-width="1"/>
<circle cx="444.7" cy="247.3" r="1.4" fill="none" stroke="#ff0000" stroke-width="1"/>
<circle cx="447.3" cy="246.3" r="1.4" fill="none" stroke="#ff0000" stroke-width="1"/>
<circle cx="450.8" cy="246.8" r="1.4" fill="none" stroke="#ff0000" stroke-width="1"/>
</g>
<polyline points="72.4,362.2 94.5,359.3 130.1,359.3 158.9,364.9 177.1,352.5 204.6,318.8 228.9,301.8 235.2,301.8 242.7,319.6 264.0,352.7 271.6,358.3 282.5,349.0 296.6,383.5 311.9,401.8 326.6,406.0 345.0,406.0 360.2,400.3 377.8,400.3 409.2,405.9 434.3,399.0 455.6,385.7" fill="none" stroke="#000" stroke-width="1" shape-rendering="crispEdges"/>
<polyline points="260.0,326.2 261.0,326.4 262.0,324.8 263.0,326.2 264.0,329.3 265.0,327.4 266.0,327.1 267.0,326.6 268.0,329.9 269.0,329.1 270.0,326.1 271.0,329.1 272.0,326.7 273.0,326.8 274.0,327.2 275.0,326.2 276.0,325.1 277.0,322.7 278.0,321.1 279.0,320.0 280.0,318.4 281.0,322.2 282.0,321.6 283.0,320.5 284.0,317.1 285.0,319.8 286.0,318.9 287.0,317.9 288.0,315.9 289.0,318.4 290.0,317.3 291.0,315.2 292.0,315.0 293.0,314.1 294.0,314.0 295.0,316.0 296.0,311.4 297.0,314.2 298.0,314.4 299.0,313.2 300.0,311.8 301.0,310.8 302.0,309.6 303.0,310.5 304.0,310.0 305.0,307.0 306.0,308.2 307.0,306.4 308.0,307.2 309.0,305.5 310.0,306.7 311.0,306.8 312.0,306.7 313.0,305.5 314.0,304.2 315.0,304.3 316.0,304.2 317.0,303.0 318.0,304.0 319.0,301.1 320.0,301.4 321.0,300.0 322.0,301.2 323.0,301.0 324.0,300.8 325.0,299.0 326.0,299.5 327.0,297.5 328.0,297.0 329.0,295.0 330.0,296.1 331.0,295.9 332.0,294.0 333.0,293.3 334.0,294.4 335.0,293.5 336.0,292.5 337.0,293.2 338.0,292.1 339.0,290.9 340.0,291.0 341.0,290.3 342.0,291.7 343.0,291.3 344.0,290.8 345.0,289.8 346.0,290.2 347.0,289.5 348.0,289.3 349.0,289.5 350.0,289.6 351.0,288.7 352.0,290.3 353.0,289.5 354.0,290.0 355.0,288.3 356.0,288.6 357.0,288.2 358.0,287.4 359.0,285.7 360.0,286.2 361.0,285.2 362.0,285.0 363.0,283.3 364.0,282.6 365.0,281.3 366.0,280.8 367.0,280.4 368.0,278.8 369.0,278.1 370.0,277.7 371.0,277.8 372.0,277.3 373.0,276.4 374.0,275.4 375.0,275.9 376.0,275.9 377.0,275.3 378.0,275.4 379.0,275.7 380.0,275.1 381.0,274.5 382.0,273.3 383.0,272.3 384.0,272.9 385.0,270.6 386.0,271.0 387.0,270.2 388.0,268.5 389.0,269.4 390.0,268.4 391.0,268.3 392.0,268.2 393.0,268.5 394.0,268.4 395.0,268.3 396.0,267.9 397.0,269.5 398.0,268.0 399.0,268.9 400.0,267.8 401.0,266.5 402.0,267.8" fill="none" stroke="#000" stroke-width="1.0" shape-rendering="crispEdges"/>
<polyline points="260.0,323.7 261.0,324.2 262.0,329.2 263.0,326.9 264.0,326.5 265.0,328.4 266.0,330.2 267.0,326.4 268.0,327.1 269.0,329.5 270.0,328.4 271.0,327.4 272.0,327.2 273.0,327.6 274.0,326.3 275.0,325.7 276.0,325.8 277.0,323.9 278.0,322.7 279.0,320.2 280.0,319.0 281.0,318.4 282.0,319.4 283.0,318.3 284.0,319.9 285.0,320.5 286.0,317.1 287.0,317.5 288.0,318.5 289.0,315.5 290.0,318.2 291.0,316.1 292.0,313.5 293.0,316.9 294.0,314.7 295.0,314.8 296.0,315.2 297.0,314.8 298.0,311.7 299.0,309.7 300.0,312.6 301.0,312.2 302.0,309.0 303.0,308.9 304.0,308.2 305.0,309.2 306.0,309.5 307.0,306.7 308.0,306.8 309.0,308.0 310.0,306.4 311.0,305.2 312.0,305.6 313.0,303.8 314.0,305.8 315.0,304.1 316.0,303.6 317.0,304.5 318.0,303.0 319.0,304.1 320.0,300.9 321.0,301.3 322.0,302.0 323.0,300.7 324.0,299.7 325.0,299.1 326.0,297.3 327.0,297.0 328.0,295.4 329.0,294.8 330.0,296.3 331.0,295.3 332.0,294.8 333.0,294.2 334.0,292.7 335.0,292.6 336.0,292.3 337.0,293.1 338.0,292.9 339.0,292.7 340.0,292.3 341.0,291.0 342.0,290.2 343.0,291.4 344.0,289.4 345.0,290.6 346.0,289.3 347.0,290.1 348.0,290.1 349.0,290.2 350.0,288.8 351.0,289.7 352.0,290.0 353.0,289.8 354.0,288.9 355.0,290.0 356.0,288.9 357.0,288.1 358.0,287.8 359.0,286.5 360.0,286.6 361.0,284.6 362.0,284.7 363.0,283.7 364.0,283.5 365.0,282.0 366.0,280.8 367.0,280.7 368.0,279.8 369.0,278.3 370.0,278.4 371.0,277.1 372.0,276.9 373.0,276.6 374.0,275.0 375.0,276.2 376.0,274.6 377.0,274.7 378.0,274.7 379.0,274.0 380.0,274.8 381.0,274.0 382.0,274.4 383.0,272.8 384.0,271.7 385.0,271.2 386.0,270.4 387.0,268.6 388.0,268.3 389.0,268.7 390.0,269.2 391.0,269.1 392.0,269.6 393.0,268.2 394.0,268.7 395.0,269.3 396.0,268.1 397.0,268.4 398.0,268.5 399.0,268.4 400.0,268.2 401.0,268.5 402.0,266.3" fill="none" stroke="#000" stroke-width="1.0" shape-rendering="crispEdges"/>
<polyline points="262.0,328.8 263.0,328.1 264.0,329.3 265.0,328.6 266.0,329.1 267.0,327.4 268.0,326.4 269.0,329.5 270.0,328.3 271.0,325.2 272.0,324.7 273.0,325.6 274.0,327.0 275.0,324.9 276.0,324.4 277.0,323.1 278.0,324.2 279.0,322.3 280.0,319.3 281.0,318.6 282.0,320.2 283.0,320.5 284.0,317.4 285.0,317.8 286.0,319.2 287.0,318.0 288.0,316.6 289.0,316.9 290.0,316.3 291.0,318.5 292.0,316.5 293.0,313.7 294.0,314.0 295.0,314.7 296.0,311.3 297.0,310.9 298.0,313.6 299.0,314.3 300.0,312.5" fill="none" stroke="#000" stroke-width="1.0" shape-rendering="crispEdges"/>
<g fill="none" stroke-width="1" shape-rendering="crispEdges">
<rect x="77.5" y="80.5" width="9" height="9" rx="3" stroke="#f00"/><path d="M81.5 80V85" stroke="#f00"/>
<rect x="77.5" y="89.5" width="9" height="9" rx="3" stroke="#f00"/><path d="M81.5 89V94" stroke="#f00"/>
<path d="M73 102.5H87M73 111.5H87M73 138.5H87M73 147.5H87" stroke="#000"/>
<path d="M77.5 122.5L82 116.5L86.5 122.5ZM82 116V120" stroke="#00f"/>
<path d="M77.5 131.5L82 125.5L86.5 131.5ZM82 125V129" stroke="#00f"/>
</g>
<g style="filter:grayscale(1)">
<text x="95" y="90.6" font-size="11" font-family="Liberation Sans, sans-serif" textLength="56" lengthAdjust="spacing" text-anchor="start" fill="#000" stroke="#000" stroke-width="0.25">Noise Bh</text>
<text x="95" y="99.31" font-size="11" font-family="Liberation Sans, sans-serif" textLength="56" lengthAdjust="spacing" text-anchor="start" fill="#000" stroke="#000" stroke-width="0.25">Noise Lh</text>
<text x="95" y="108.02" font-size="11" font-family="Liberation Sans, sans-serif" textLength="255" lengthAdjust="spacing" text-anchor="start" fill="#000" stroke="#000" stroke-width="0.25">SLM.E.CMGESP(test) BL T3A38 2001.227</text>
<text x="95" y="116.72999999999999" font-size="11" font-family="Liberation Sans, sans-serif" textLength="255" lengthAdjust="spacing" text-anchor="start" fill="#000" stroke="#000" stroke-width="0.25">SLM.E.CMGESP(test) LL T3A38 2001.227</text>
<text x="95" y="125.44" font-size="11" font-family="Liberation Sans, sans-serif" textLength="77.5" lengthAdjust="spacing" text-anchor="start" fill="#000" stroke="#000" stroke-width="0.25">Gnd Noise B</text>
<text x="95" y="134.15" font-size="11" font-family="Liberation Sans, sans-serif" textLength="77.5" lengthAdjust="spacing" text-anchor="start" fill="#000" stroke="#000" stroke-width="0.25">Gnd Noise L</text>
<text x="95" y="142.86" font-size="11" font-family="Liberation Sans, sans-serif" textLength="105" lengthAdjust="spacing" text-anchor="start" fill="#000" stroke="#000" stroke-width="0.25">LOW NOISE MODEL</text>
<text x="95" y="151.57" font-size="11" font-family="Liberation Sans, sans-serif" textLength="112.5" lengthAdjust="spacing" text-anchor="start" fill="#000" stroke="#000" stroke-width="0.25">HIGH NOISE MODEL</text>
<text x="68" y="103.58" font-size="7.8" font-family="Liberation Sans, sans-serif" textLength="26.6" lengthAdjust="spacing" transform="rotate(-90 68 103.58)" text-anchor="start" fill="#000" stroke="#000" stroke-width="0.25">-40.00</text>
<text x="68" y="124" font-size="7.8" font-family="Liberation Sans, sans-serif" textLength="26.6" lengthAdjust="spacing" transform="rotate(-90 68 124)" text-anchor="start" fill="#000" stroke="#000" stroke-width="0.25">-60.00</text>
<text x="68" y="169" font-size="7.8" font-family="Liberation Sans, sans-serif" textLength="26.6" lengthAdjust="spacing" transform="rotate(-90 68 169)" text-anchor="start" fill="#000" stroke="#000" stroke-width="0.25">-80.00</text>
<text x="68" y="214" font-size="7.8" font-family="Liberation Sans, sans-serif" textLength="31.0" lengthAdjust="spacing" transform="rotate(-90 68 214)" text-anchor="start" fill="#000" stroke="#000" stroke-width="0.25">-100.00</text>
<text x="68" y="258" font-size="7.8" font-family="Liberation Sans, sans-serif" textLength="31.0" lengthAdjust="spacing" transform="rotate(-90 68 258)" text-anchor="start" fill="#000" stroke="#000" stroke-width="0.25">-120.00</text>
<text x="68" y="303" font-size="7.8" font-family="Liberation Sans, sans-serif" textLength="31.0" lengthAdjust="spacing" transform="rotate(-90 68 303)" text-anchor="start" fill="#000" stroke="#000" stroke-width="0.25">-140.00</text>
<text x="68" y="348" font-size="7.8" font-family="Liberation Sans, sans-serif" textLength="31.0" lengthAdjust="spacing" transform="rotate(-90 68 348)" text-anchor="start" fill="#000" stroke="#000" stroke-width="0.25">-160.00</text>
<text x="68" y="393" font-size="7.8" font-family="Liberation Sans, sans-serif" textLength="31.0" lengthAdjust="spacing" transform="rotate(-90 68 393)" text-anchor="start" fill="#000" stroke="#000" stroke-width="0.25">-180.00</text>
<text x="68" y="434" font-size="7.8" font-family="Liberation Sans, sans-serif" textLength="31.0" lengthAdjust="spacing" transform="rotate(-90 68 434)" text-anchor="start" fill="#000" stroke="#000" stroke-width="0.25">-200.00</text>
<text x="57" y="393" font-size="10.5" font-family="Liberation Sans, sans-serif" textLength="273" lengthAdjust="spacing" transform="rotate(-90 57 393)" text-anchor="start" fill="#000" stroke="#000" stroke-width="0.25">Power Spectral Density (10*LOG M**2/S**4/Hz)</text>
<text x="60" y="105" font-size="13" font-family="Liberation Sans, sans-serif" transform="rotate(-90 60 105)" text-anchor="start" fill="#000" stroke="#000" stroke-width="0.25">*</text>
<text x="55.3" y="98.4" font-size="8.5" font-family="Liberation Sans, sans-serif" textLength="9.8" lengthAdjust="spacing" transform="rotate(-90 55.3 98.4)" text-anchor="start" fill="#000" stroke="#000" stroke-width="0.25">10</text>
<text x="51.3" y="87.2" font-size="6.5" font-family="Liberation Sans, sans-serif" transform="rotate(-90 51.3 87.2)" text-anchor="start" fill="#000" stroke="#000" stroke-width="0.25">0</text>
<text x="65.0" y="457" font-size="17.5" font-family="Liberation Sans, sans-serif" textLength="23" lengthAdjust="spacing" text-anchor="start" fill="#000" stroke="#000" stroke-width="0.25">10</text>
<text x="92.0" y="446.5" font-size="13" font-family="Liberation Sans, sans-serif" textLength="14" lengthAdjust="spacing" text-anchor="start" fill="#000" stroke="#000" stroke-width="0.25">-1</text>
<text x="160.8" y="457" font-size="17.5" font-family="Liberation Sans, sans-serif" textLength="23" lengthAdjust="spacing" text-anchor="start" fill="#000" stroke="#000" stroke-width="0.25">10</text>
<text x="186.3" y="446.5" font-size="13" font-family="Liberation Sans, sans-serif" text-anchor="start" fill="#000" stroke="#000" stroke-width="0.25">0</text>
<text x="256.6" y="457" font-size="17.5" font-family="Liberation Sans, sans-serif" textLength="23" lengthAdjust="spacing" text-anchor="start" fill="#000" stroke="#000" stroke-width="0.25">10</text>
<text x="282.1" y="446.5" font-size="13" font-family="Liberation Sans, sans-serif" text-anchor="start" fill="#000" stroke="#000" stroke-width="0.25">1</text>
<text x="352.4" y="457" font-size="17.5" font-family="Liberation Sans, sans-serif" textLength="23" lengthAdjust="spacing" text-anchor="start" fill="#000" stroke="#000" stroke-width="0.25">10</text>
<text x="377.9" y="446.5" font-size="13" font-family="Liberation Sans, sans-serif" text-anchor="start" fill="#000" stroke="#000" stroke-width="0.25">2</text>
<text x="448.2" y="457" font-size="17.5" font-family="Liberation Sans, sans-serif" textLength="23" lengthAdjust="spacing" text-anchor="start" fill="#000" stroke="#000" stroke-width="0.25">10</text>
<text x="473.7" y="446.5" font-size="13" font-family="Liberation Sans, sans-serif" text-anchor="start" fill="#000" stroke="#000" stroke-width="0.25">3</text>
<text x="183" y="478.5" font-size="16.5" font-family="Liberation Sans, sans-serif" textLength="157" lengthAdjust="spacing" text-anchor="start" fill="#000" stroke="#000" stroke-width="0.25">Period (sec)</text>
</g>
</svg>
</body></html>
